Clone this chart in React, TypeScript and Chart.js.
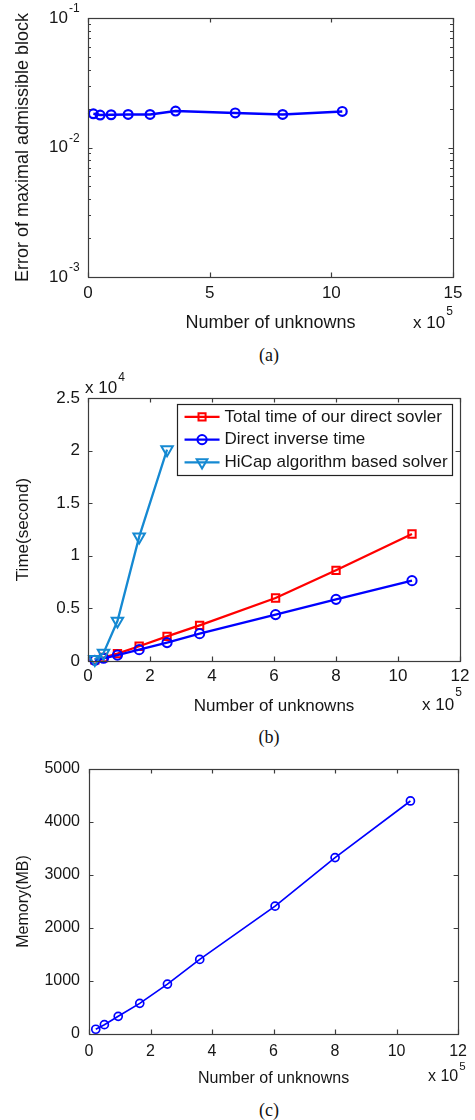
import React, { useEffect, useRef } from 'react';
import { Chart, registerables } from 'chart.js';

Chart.register(...registerables);

// Problem sizes, number of unknowns in units of 10^5
const unknowns = [0.22, 0.5, 0.95, 1.65, 2.55, 3.6, 6.05, 8.0, 10.45];
// (a) error of the maximal admissible block
const blockError = [0.0182, 0.0178, 0.0179, 0.018, 0.018, 0.0191, 0.0185, 0.018, 0.019];
// (b) run times in seconds
const totalTime = [120, 330, 700, 1400, 2340, 3390, 5990, 8620, 12070];
const inverseTime = [70, 260, 560, 1080, 1750, 2600, 4410, 5860, 7640];
const hicapUnknowns = [0.22, 0.5, 0.95, 1.65, 2.55];
const hicapTime = [150, 750, 3800, 11800, 20100];
// (c) memory in MB
const memoryMB = [90, 176, 333, 578, 942, 1407, 2412, 3329, 4397];

// axis ticks
const errorXTicks = [0, 5, 10, 15];
const errorYDecades = [1e-3, 1e-2, 1e-1];
const errorYExponents = ['-3', '-2', '-1'];
const timeXTicks = [0, 2, 4, 6, 8, 10, 12];
const timeYTicks = [0, 5000, 10000, 15000, 20000, 25000];
const timeYTickLabels = ['0', '0.5', '1', '1.5', '2', '2.5'];
const memXTicks = [0, 2, 4, 6, 8, 10, 12];
const memYTicks = [0, 1000, 2000, 3000, 4000, 5000];

const FONT = "'Liberation Sans', Arial, Helvetica, sans-serif";
const SERIF = "'Liberation Serif', 'Times New Roman', serif";
const TEXT = '#161616';
const AXIS = '#3c3c3c';
const BLUE = '#0000ff';
const RED = '#ff0000';
const CYAN = '#1589d2';

type Marker = 'circle' | 'rect' | 'triangle';

function markerPath(ctx: CanvasRenderingContext2D, style: Marker, x: number, y: number, r: number) {
  ctx.beginPath();
  if (style === 'rect') {
    const s = r * Math.SQRT1_2;
    ctx.rect(x - s, y - s, 2 * s, 2 * s);
  } else if (style === 'triangle') {
    const w = r * Math.sin(Math.PI / 3);
    ctx.moveTo(x, y + r);
    ctx.lineTo(x - w, y - r / 2);
    ctx.lineTo(x + w, y - r / 2);
    ctx.closePath();
  } else {
    ctx.arc(x, y, r, 0, Math.PI * 2);
  }
  ctx.stroke();
}

// Box around the plot area with inward ticks on all four sides
function framePlugin(xTicks: number[], yTicks: number[], yMinor: number[] = []) {
  return {
    id: 'boxFrame',
    afterDraw(chart: any) {
      const { ctx, chartArea } = chart;
      const { left, right, top, bottom } = chartArea;
      const xs = chart.scales.x;
      const ys = chart.scales.y;
      const major = 4.5;
      const minor = 3;
      ctx.save();
      ctx.strokeStyle = AXIS;
      ctx.lineWidth = 1.2;
      ctx.strokeRect(Math.round(left) + 0.5, Math.round(top) + 0.5, Math.round(right - left), Math.round(bottom - top));
      ctx.beginPath();
      for (const v of xTicks) {
        const px = Math.round(xs.getPixelForValue(v)) + 0.5;
        ctx.moveTo(px, bottom);
        ctx.lineTo(px, bottom - major);
        ctx.moveTo(px, top);
        ctx.lineTo(px, top + major);
      }
      for (const v of yTicks) {
        const py = Math.round(ys.getPixelForValue(v)) + 0.5;
        ctx.moveTo(left, py);
        ctx.lineTo(left + major, py);
        ctx.moveTo(right, py);
        ctx.lineTo(right - major, py);
      }
      for (const v of yMinor) {
        const py = Math.round(ys.getPixelForValue(v)) + 0.5;
        ctx.moveTo(left, py);
        ctx.lineTo(left + minor, py);
        ctx.moveTo(right, py);
        ctx.lineTo(right - minor, py);
      }
      ctx.stroke();
      ctx.restore();
    },
  };
}

interface ExpItem {
  base: string;
  exp: string;
  size: number;
  expSize: number;
  lift: number;
  align: 'left' | 'right';
  at: (chart: any) => { x: number; y: number };
}

// Labels of the form base^exp, e.g. 10^-2 and "x 10^5"
function expLabelPlugin(items: ExpItem[]) {
  return {
    id: 'expLabels',
    afterDraw(chart: any) {
      const ctx = chart.ctx as CanvasRenderingContext2D;
      ctx.save();
      ctx.fillStyle = TEXT;
      ctx.textBaseline = 'middle';
      for (const it of items) {
        const { x, y } = it.at(chart);
        ctx.font = `${it.size}px ${FONT}`;
        const w = ctx.measureText(it.base).width;
        const baseLeft = it.align === 'right' ? x - w : x;
        ctx.textAlign = 'left';
        ctx.fillText(it.base, baseLeft, y);
        ctx.font = `${it.expSize}px ${FONT}`;
        ctx.fillText(it.exp, baseLeft + w + 1, y - it.lift);
      }
      ctx.restore();
    },
  };
}

// Framed legend inside the plot area, line sample with its marker
function boxLegendPlugin() {
  return {
    id: 'boxLegend',
    afterDraw(chart: any) {
      const ctx = chart.ctx as CanvasRenderingContext2D;
      const { right, top } = chart.chartArea;
      const boxRight = right - 8;
      const boxLeft = boxRight - 275;
      const boxTop = top + 5.5;
      const boxH = 71;
      const rowGap = 22.7;
      ctx.save();
      ctx.fillStyle = '#ffffff';
      ctx.fillRect(boxLeft, boxTop, boxRight - boxLeft, boxH);
      ctx.strokeStyle = '#222222';
      ctx.lineWidth = 1.2;
      ctx.strokeRect(Math.round(boxLeft) + 0.5, Math.round(boxTop) + 0.5, Math.round(boxRight - boxLeft), boxH);
      chart.data.datasets.forEach((ds: any, i: number) => {
        const y = boxTop + 13.4 + i * rowGap;
        ctx.strokeStyle = ds.borderColor;
        ctx.lineWidth = ds.borderWidth;
        ctx.beginPath();
        ctx.moveTo(boxLeft + 7.5, y);
        ctx.lineTo(boxLeft + 42.5, y);
        ctx.stroke();
        ctx.lineWidth = ds.pointBorderWidth;
        markerPath(ctx, ds.legendMarker, boxLeft + 25, y, ds.legendRadius);
        ctx.fillStyle = TEXT;
        ctx.font = `17px ${FONT}`;
        ctx.textAlign = 'left';
        ctx.textBaseline = 'middle';
        ctx.fillText(ds.label, boxLeft + 47.5, y);
      });
      ctx.restore();
    },
  };
}

const noGrid = { display: false, drawTicks: false };
const noBorder = { display: false };

function tickSetter(values: number[]) {
  return (scale: any) => {
    scale.ticks = values.map((value) => ({ value }));
  };
}

function buildErrorChart(canvas: HTMLCanvasElement) {
  const minor: number[] = [];
  for (const d of [1e-3, 1e-2]) for (let k = 2; k <= 9; k++) minor.push(d * k);
  const logLabels: ExpItem[] = errorYDecades.map((v, i) => ({
    base: '10',
    exp: errorYExponents[i],
    size: 17,
    expSize: 12,
    lift: 9,
    align: 'right' as const,
    at: (chart: any) => ({ x: chart.chartArea.left - 20, y: chart.scales.y.getPixelForValue(v) }),
  }));
  const sci: ExpItem = {
    base: 'x 10',
    exp: '5',
    size: 17,
    expSize: 12,
    lift: 11,
    align: 'left',
    at: (chart: any) => ({ x: chart.chartArea.right - 40, y: 323 }),
  };
  return new Chart(canvas, {
    type: 'scatter',
    data: {
      datasets: [
        {
          label: 'Error of maximal admissible block',
          data: unknowns.map((x, i) => ({ x, y: blockError[i] })),
          showLine: true,
          borderColor: BLUE,
          borderWidth: 2.5,
          pointStyle: 'circle',
          pointRadius: 4.4,
          pointBorderWidth: 2.2,
          pointBorderColor: BLUE,
          pointBackgroundColor: 'rgba(0,0,0,0)',
          clip: false,
        } as any,
      ],
    },
    options: {
      responsive: false,
      animation: false,
      devicePixelRatio: 1,
      layout: { padding: { top: 18, right: 22, left: 0, bottom: 0 } },
      plugins: { legend: { display: false }, tooltip: { enabled: false } },
      scales: {
        x: {
          type: 'linear',
          min: 0,
          max: 15,
          afterBuildTicks: tickSetter(errorXTicks),
          afterFit: (s: any) => {
            s.height = 63;
          },
          grid: noGrid,
          border: noBorder,
          ticks: { padding: 6, autoSkip: false, maxRotation: 0, color: TEXT, font: { family: FONT, size: 17 }, callback: (v: any) => String(v) },
          title: { display: true, text: 'Number of unknowns', color: TEXT, font: { family: FONT, size: 18 }, padding: { top: 0, bottom: 6 } },
        },
        y: {
          type: 'logarithmic',
          min: 1e-3,
          max: 1e-1,
          afterFit: (s: any) => {
            s.width = 88;
          },
          grid: noGrid,
          border: noBorder,
          ticks: { display: false },
          title: { display: true, text: 'Error of maximal admissible block', color: TEXT, font: { family: FONT, size: 18 }, padding: { top: 12, bottom: 0 } },
        },
      },
    } as any,
    plugins: [framePlugin(errorXTicks, errorYDecades, minor), expLabelPlugin([...logLabels, sci])],
  });
}

function buildTimeChart(canvas: HTMLCanvasElement) {
  const sci: ExpItem[] = [
    { base: 'x 10', exp: '4', size: 17, expSize: 12, lift: 10, align: 'left', at: () => ({ x: 85, y: 18 }) },
    { base: 'x 10', exp: '5', size: 17, expSize: 12, lift: 12, align: 'left', at: () => ({ x: 422, y: 335 }) },
  ];
  return new Chart(canvas, {
    type: 'scatter',
    data: {
      datasets: [
        {
          label: 'Total time of our direct sovler',
          data: unknowns.map((x, i) => ({ x, y: totalTime[i] })),
          showLine: true,
          borderColor: RED,
          borderWidth: 2.3,
          pointStyle: 'rect',
          pointRadius: 5.2,
          pointBorderWidth: 2,
          pointBorderColor: RED,
          pointBackgroundColor: 'rgba(0,0,0,0)',
          legendMarker: 'rect',
          legendRadius: 5,
          order: 3,
          clip: false,
        } as any,
        {
          label: 'Direct inverse time',
          data: unknowns.map((x, i) => ({ x, y: inverseTime[i] })),
          showLine: true,
          borderColor: BLUE,
          borderWidth: 2.3,
          pointStyle: 'circle',
          pointRadius: 4.6,
          pointBorderWidth: 2,
          pointBorderColor: BLUE,
          pointBackgroundColor: 'rgba(0,0,0,0)',
          legendMarker: 'circle',
          legendRadius: 4.6,
          order: 2,
          clip: false,
        } as any,
        {
          label: 'HiCap algorithm based solver',
          data: hicapUnknowns.map((x, i) => ({ x, y: hicapTime[i] })),
          showLine: true,
          borderColor: CYAN,
          borderWidth: 2.3,
          pointStyle: 'triangle',
          rotation: 180,
          pointRadius: 6.6,
          pointBorderWidth: 2,
          pointBorderColor: CYAN,
          pointBackgroundColor: 'rgba(0,0,0,0)',
          legendMarker: 'triangle',
          legendRadius: 6.2,
          order: 1,
          clip: false,
        } as any,
      ],
    },
    options: {
      responsive: false,
      animation: false,
      devicePixelRatio: 1,
      layout: { padding: { top: 28, right: 14, left: 0, bottom: 0 } },
      plugins: { legend: { display: false }, tooltip: { enabled: false } },
      scales: {
        x: {
          type: 'linear',
          min: 0,
          max: 12,
          afterBuildTicks: tickSetter(timeXTicks),
          afterFit: (s: any) => {
            s.height = 59;
          },
          grid: noGrid,
          border: noBorder,
          ticks: { padding: 5.5, autoSkip: false, maxRotation: 0, color: TEXT, font: { family: FONT, size: 17 }, callback: (v: any) => String(v) },
          title: { display: true, text: 'Number of unknowns', color: TEXT, font: { family: FONT, size: 17 }, padding: { top: 0, bottom: 3 } },
        },
        y: {
          type: 'linear',
          min: 0,
          max: 25000,
          afterBuildTicks: tickSetter(timeYTicks),
          afterFit: (s: any) => {
            s.width = 88;
          },
          grid: noGrid,
          border: noBorder,
          ticks: {
            padding: 8,
            autoSkip: false,
            color: TEXT,
            font: { family: FONT, size: 17 },
            callback: (_v: any, i: number) => timeYTickLabels[i],
          },
          title: { display: true, text: 'Time(second)', color: TEXT, font: { family: FONT, size: 17 }, padding: { top: 13, bottom: 0 } },
        },
      },
    } as any,
    plugins: [framePlugin(timeXTicks, timeYTicks), expLabelPlugin(sci), boxLegendPlugin()],
  });
}

function buildMemoryChart(canvas: HTMLCanvasElement) {
  const sci: ExpItem[] = [
    { base: 'x 10', exp: '5', size: 16, expSize: 11.5, lift: 10, align: 'left', at: () => ({ x: 428, y: 346.5 }) },
  ];
  return new Chart(canvas, {
    type: 'scatter',
    data: {
      datasets: [
        {
          label: 'Memory(MB)',
          data: unknowns.map((x, i) => ({ x, y: memoryMB[i] })),
          showLine: true,
          borderColor: BLUE,
          borderWidth: 1.7,
          pointStyle: 'circle',
          pointRadius: 4,
          pointBorderWidth: 1.7,
          pointBorderColor: BLUE,
          pointBackgroundColor: 'rgba(0,0,0,0)',
          clip: false,
        } as any,
      ],
    },
    options: {
      responsive: false,
      animation: false,
      devicePixelRatio: 1,
      layout: { padding: { top: 39, right: 11, left: 0, bottom: 0 } },
      plugins: { legend: { display: false }, tooltip: { enabled: false } },
      scales: {
        x: {
          type: 'linear',
          min: 0,
          max: 12,
          afterBuildTicks: tickSetter(memXTicks),
          afterFit: (s: any) => {
            s.height = 56;
          },
          grid: noGrid,
          border: noBorder,
          ticks: { padding: 8, autoSkip: false, maxRotation: 0, color: TEXT, font: { family: FONT, size: 16 }, callback: (v: any) => String(v) },
          title: { display: true, text: 'Number of unknowns', color: TEXT, font: { family: FONT, size: 16 }, padding: { top: 0, bottom: 1.5 } },
        },
        y: {
          type: 'linear',
          min: 0,
          max: 5000,
          afterBuildTicks: tickSetter(memYTicks),
          afterFit: (s: any) => {
            s.width = 89;
          },
          grid: noGrid,
          border: noBorder,
          ticks: { padding: 9, autoSkip: false, color: TEXT, font: { family: FONT, size: 16 }, callback: (v: any) => String(v) },
          title: { display: true, text: 'Memory(MB)', color: TEXT, font: { family: FONT, size: 16 }, padding: { top: 13.5, bottom: 0 } },
        },
      },
    } as any,
    plugins: [framePlugin(memXTicks, memYTicks), expLabelPlugin(sci)],
  });
}

function Panel({ top, height, build }: { top: number; height: number; build: (c: HTMLCanvasElement) => Chart }) {
  const ref = useRef<HTMLCanvasElement>(null);
  useEffect(() => {
    const chart = build(ref.current as HTMLCanvasElement);
    return () => chart.destroy();
  }, [build]);
  return (
    <canvas
      ref={ref}
      width={475}
      height={height}
      style={{ position: 'absolute', left: 0, top, width: 475, height, display: 'block' }}
    />
  );
}

function Caption({ text, y }: { text: string; y: number }) {
  return (
    <div
      style={{
        position: 'absolute',
        left: 269,
        top: y,
        transform: 'translate(-50%, -50%)',
        fontFamily: SERIF,
        fontSize: 18,
        lineHeight: 1,
        color: '#111',
        whiteSpace: 'nowrap',
      }}
    >
      {text}
    </div>
  );
}

export default function App() {
  return (
    <div style={{ position: 'absolute', left: 0, top: 0, width: 475, height: 1120, background: '#fff', overflow: 'hidden' }}>
      <Panel top={0} height={340} build={buildErrorChart} />
      <Caption text="(a)" y={355} />
      <Panel top={370} height={350} build={buildTimeChart} />
      <Caption text="(b)" y={737} />
      <Panel top={730} height={360} build={buildMemoryChart} />
      <Caption text="(c)" y={1110} />
    </div>
  );
}
